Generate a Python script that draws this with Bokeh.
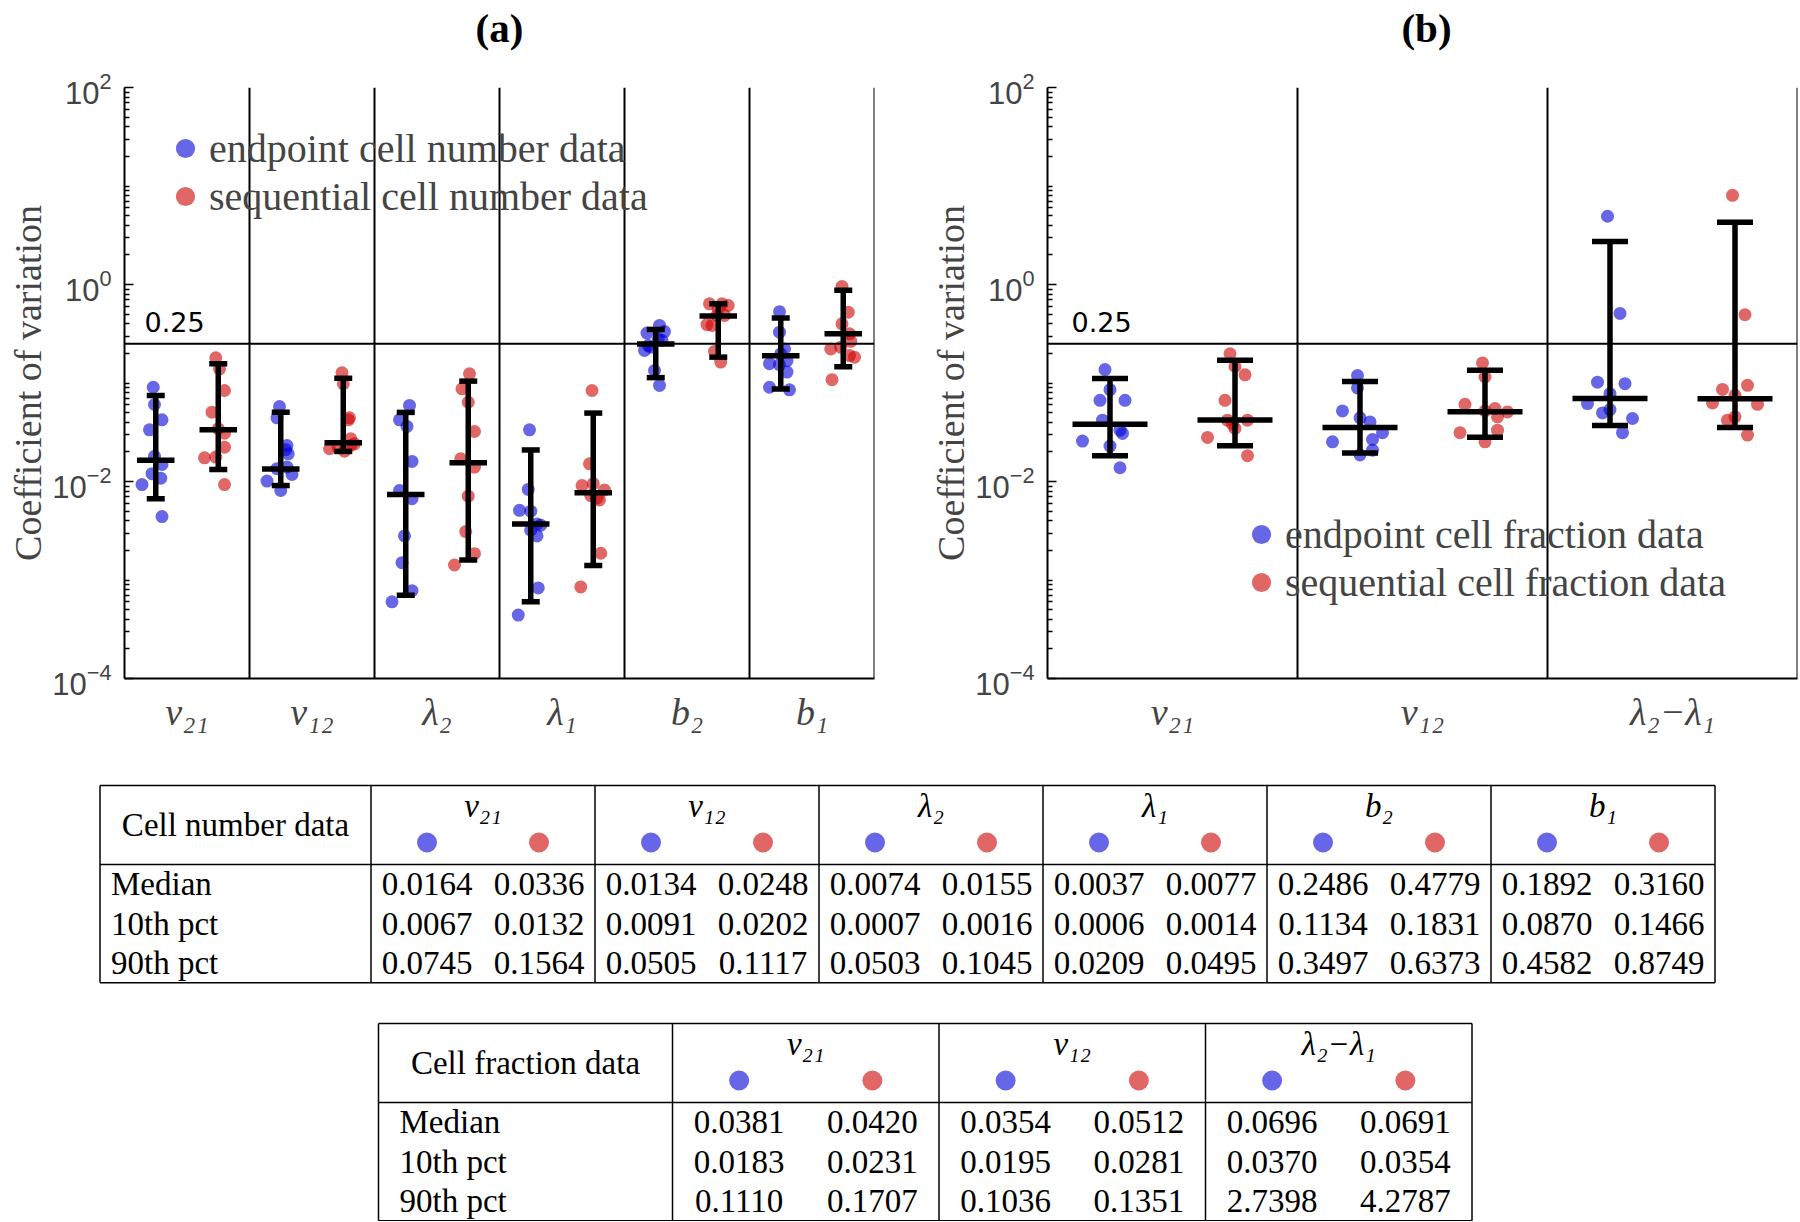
import numpy as np
from bokeh.plotting import figure
from bokeh.models import Range1d, FixedTicker, Span, Label, Legend, LegendItem
from bokeh.layouts import column, row
from bokeh.embed import file_html
from bokeh.resources import INLINE
from bokeh.core.properties import value

# ---------------- data ----------------
params_a = ["ν₂₁", "ν₁₂", "λ₂", "λ₁", "b₂", "b₁"]
params_b = ["ν₂₁", "ν₁₂", "λ₂−λ₁"]
panel_titles = ["(a)", "(b)"]
row_names = ["Median", "10th pct", "90th pct"]
THRESH = 0.25

a_end_median = [0.0164, 0.0134, 0.0074, 0.0037, 0.2486, 0.1892]
a_seq_median = [0.0336, 0.0248, 0.0155, 0.0077, 0.4779, 0.3160]
a_end_p10 = [0.0067, 0.0091, 0.0007, 0.0006, 0.1134, 0.0870]
a_seq_p10 = [0.0132, 0.0202, 0.0016, 0.0014, 0.1831, 0.1466]
a_end_p90 = [0.0745, 0.0505, 0.0503, 0.0209, 0.3497, 0.4582]
a_seq_p90 = [0.1564, 0.1117, 0.1045, 0.0495, 0.6373, 0.8749]

b_end_median = [0.0381, 0.0354, 0.0696]
b_seq_median = [0.0420, 0.0512, 0.0691]
b_end_p10 = [0.0183, 0.0195, 0.0370]
b_seq_p10 = [0.0231, 0.0281, 0.0354]
b_end_p90 = [0.1110, 0.1036, 2.7398]
b_seq_p90 = [0.1707, 0.1351, 4.2787]

a_end_pts = [
    [0.0906, 0.0605, 0.0423, 0.0335, 0.0180, 0.0149, 0.0120, 0.0108, 0.0093, 0.0044],
    [0.0577, 0.0443, 0.0232, 0.0191, 0.0210, 0.0135, 0.0118, 0.0101, 0.0081, 0.0140],
    [0.0592, 0.0423, 0.0362, 0.0160, 0.0081, 0.0067, 0.0028, 0.0015, 0.00078, 0.00060],
    [0.0335, 0.0083, 0.0051, 0.0050, 0.0037, 0.0032, 0.0028, 0.00083, 0.00044, 0.0036],
    [0.384, 0.333, 0.321, 0.281, 0.270, 0.240, 0.214, 0.231, 0.134, 0.0944],
    [0.530, 0.328, 0.222, 0.198, 0.169, 0.157, 0.154, 0.129, 0.0906, 0.0853],
]
a_end_jit = [
    [-0.02, -0.01, 0.05, -0.05, -0.01, 0.05, -0.03, 0.04, -0.11, 0.05],
    [-0.01, -0.03, 0.05, 0.06, 0.04, -0.03, 0.09, -0.11, 0.00, 0.05],
    [0.03, -0.05, 0.01, 0.05, -0.05, 0.05, -0.01, -0.03, 0.05, -0.11],
    [-0.01, -0.02, -0.09, 0.00, 0.05, 0.00, 0.05, 0.06, -0.10, 0.08],
    [0.03, 0.07, -0.07, 0.02, 0.05, -0.06, -0.09, -0.04, -0.01, 0.03],
    [-0.01, -0.01, 0.03, 0.00, 0.05, -0.09, -0.01, 0.05, -0.09, 0.07],
]
a_seq_pts = [
    [0.180, 0.139, 0.0839, 0.0506, 0.0343, 0.0309, 0.0223, 0.0174, 0.0177, 0.0093],
    [0.127, 0.0982, 0.0443, 0.0423, 0.0271, 0.0241, 0.0215, 0.0203, 0.0223, 0.0232],
    [0.124, 0.0873, 0.0638, 0.0322, 0.0170, 0.0140, 0.0071, 0.0031, 0.00185, 0.00142],
    [0.0839, 0.0151, 0.0091, 0.0095, 0.0082, 0.0065, 0.0072, 0.00187, 0.00085, 0.0068],
    [0.637, 0.637, 0.612, 0.485, 0.485, 0.392, 0.384, 0.163, 0.209, 0.566],
    [0.955, 0.524, 0.399, 0.316, 0.265, 0.231, 0.222, 0.190, 0.183, 0.108],
]
a_seq_jit = [
    [-0.02, 0.01, 0.05, -0.05, 0.00, 0.05, 0.05, -0.11, -0.02, 0.05],
    [-0.01, 0.00, 0.05, 0.04, 0.06, 0.09, -0.11, 0.01, -0.04, 0.06],
    [0.01, -0.05, 0.00, 0.05, -0.06, 0.05, 0.00, -0.02, 0.05, -0.11],
    [-0.01, -0.03, -0.09, 0.00, 0.09, 0.05, -0.02, 0.06, -0.10, 0.03],
    [-0.07, 0.03, 0.08, 0.05, -0.01, -0.09, -0.05, 0.02, -0.03, 0.00],
    [-0.01, 0.04, -0.01, 0.05, 0.06, -0.02, -0.10, 0.05, 0.09, -0.09],
]
b_end_pts = [
    [0.137, 0.0855, 0.0667, 0.0667, 0.0419, 0.0332, 0.0308, 0.0257, 0.0229, 0.0138],
    [0.119, 0.0891, 0.0521, 0.0443, 0.0403, 0.0313, 0.0267, 0.0253, 0.0208, 0.0186],
    [4.93, 0.509, 0.102, 0.0984, 0.0780, 0.0618, 0.0537, 0.0497, 0.0436, 0.0313],
]
b_end_jit = [
    [-0.02, 0.00, -0.04, 0.06, -0.03, 0.04, 0.05, -0.11, 0.00, 0.04],
    [-0.01, -0.01, -0.07, 0.00, 0.04, 0.09, 0.05, -0.11, 0.05, 0.00],
    [-0.01, 0.04, -0.05, 0.06, 0.00, -0.09, 0.00, -0.03, 0.09, 0.05],
]
b_seq_pts = [
    [0.198, 0.147, 0.121, 0.0667, 0.0419, 0.0419, 0.0345, 0.0280, 0.0183, 0.0382],
    [0.160, 0.115, 0.0608, 0.0550, 0.0509, 0.0454, 0.0521, 0.0313, 0.0332, 0.0253],
    [8.04, 0.493, 0.0946, 0.0861, 0.0749, 0.0628, 0.0608, 0.0454, 0.0419, 0.0296],
]
b_seq_jit = [
    [-0.02, 0.00, 0.04, -0.04, -0.03, 0.05, 0.00, -0.11, 0.05, -0.01],
    [-0.01, 0.00, -0.08, 0.04, 0.09, 0.05, 0.00, -0.10, 0.05, 0.00],
    [-0.01, 0.04, 0.05, -0.05, 0.00, -0.09, 0.09, 0.00, -0.03, 0.05],
]

# ---------------- style / layout ----------------
BLUE = "#0000d5"
RED = "#cd0000"
ALPHA = 0.6
SERIF = "Liberation Serif"
SANS = "Liberation Sans"
SIDE = 0.25
CAP = 0.072
MED = 0.15
EB_W = 5.5
FRAME_W, FRAME_H = 750, 591
TITLE_H = 60
A_LEFT, A_RIGHT = 124, 50
B_LEFT, B_RIGHT = 123, 1
TOTAL_W = A_LEFT + FRAME_W + A_RIGHT + B_LEFT + FRAME_W + B_RIGHT


def panel(labels, end_pts, end_jit, seq_pts, seq_jit,
          e_med, e_p10, e_p90, s_med, s_p10, s_p90,
          border_left, border_right, border_top, border_bottom,
          leg_labels, leg_loc, thr_xoff):
    n = len(labels)
    p = figure(frame_width=FRAME_W, frame_height=FRAME_H,
               min_border_left=border_left, min_border_right=border_right,
               min_border_top=border_top, min_border_bottom=border_bottom,
               x_range=Range1d(0.5, n + 0.5), y_range=Range1d(1e-4, 1e2),
               y_axis_type="log", output_backend="svg", toolbar_location=None)
    p.grid.visible = False
    p.outline_line_color = None
    p.background_fill_color = "white"
    p.border_fill_color = "white"

    # y axis
    minor = []
    for e in range(-4, 2):
        for k in range(1, 10):
            if k == 1 and e % 2 == 0:
                continue
            minor.append(k * 10.0 ** e)
    p.yaxis.ticker = FixedTicker(ticks=[1e-4, 1e-2, 1e0, 1e2], minor_ticks=minor)
    p.yaxis.major_tick_in = 9
    p.yaxis.major_tick_out = 0
    p.yaxis.minor_tick_in = 5
    p.yaxis.minor_tick_out = 0
    p.yaxis.major_tick_line_width = 1.5
    p.yaxis.minor_tick_line_width = 1.5
    p.yaxis.axis_line_width = 2
    p.yaxis.major_label_text_font = SANS
    p.yaxis.major_label_text_font_size = "31px"
    p.yaxis.major_label_standoff = 13
    p.yaxis.axis_label = "Coefficient of variation"
    p.yaxis.axis_label_text_font = SERIF
    p.yaxis.axis_label_text_font_style = "normal"
    p.yaxis.axis_label_text_font_size = "38px"
    p.yaxis.axis_label_standoff = 0

    # x axis
    p.xaxis.ticker = FixedTicker(ticks=list(range(1, n + 1)))
    p.xaxis.major_label_overrides = {i + 1: lab for i, lab in enumerate(labels)}
    p.xaxis.major_tick_in = 0
    p.xaxis.major_tick_out = 0
    p.xaxis.axis_line_width = 2
    p.xaxis.major_label_text_font = SERIF
    p.xaxis.major_label_text_font_style = "italic"
    p.xaxis.major_label_text_font_size = "38px"
    p.xaxis.major_label_standoff = 12

    # separators and threshold
    for i in range(1, n + 1):
        p.add_layout(Span(location=i + 0.5, dimension="height",
                          line_color="black", line_width=2))
    p.add_layout(Span(location=THRESH, dimension="width",
                      line_color="black", line_width=2))
    p.add_layout(Label(x=0.5, y=THRESH, x_offset=thr_xoff, y_offset=12,
                       text=f"{THRESH}", text_font="DejaVu Sans",
                       text_font_size="27px", text_baseline="bottom",
                       text_color="black"))

    # points
    xe, ye, xs, ys = [], [], [], []
    for i in range(n):
        for v, j in zip(end_pts[i], end_jit[i]):
            xe.append(i + 1 - SIDE + j)
            ye.append(v)
        for v, j in zip(seq_pts[i], seq_jit[i]):
            xs.append(i + 1 + SIDE + j)
            ys.append(v)
    r_e = p.scatter(xe, ye, size=13, color=BLUE, alpha=ALPHA, line_color=None)
    r_s = p.scatter(xs, ys, size=13, color=RED, alpha=ALPHA, line_color=None)

    # error bars (10th pct .. 90th pct, median bar)
    for off, med, lo, hi in ((-SIDE, e_med, e_p10, e_p90), (SIDE, s_med, s_p10, s_p90)):
        x = np.arange(1, n + 1) + off
        p.segment(x0=x, y0=lo, x1=x, y1=hi, line_color="black", line_width=EB_W)
        p.segment(x0=x - CAP, y0=lo, x1=x + CAP, y1=lo, line_color="black", line_width=EB_W)
        p.segment(x0=x - CAP, y0=hi, x1=x + CAP, y1=hi, line_color="black", line_width=EB_W)
        p.segment(x0=x - MED, y0=med, x1=x + MED, y1=med, line_color="black", line_width=EB_W)

    legend = Legend(items=[LegendItem(label=leg_labels[0], renderers=[r_e]),
                           LegendItem(label=leg_labels[1], renderers=[r_s])],
                    location=leg_loc, glyph_width=48, glyph_height=48,
                    padding=0, margin=0, spacing=0, label_standoff=0,
                    background_fill_alpha=0, border_line_alpha=0,
                    label_text_font=SERIF, label_text_font_size="40px")
    p.add_layout(legend)
    return p


fa = panel(params_a, a_end_pts, a_end_jit, a_seq_pts, a_seq_jit,
           a_end_median, a_end_p10, a_end_p90, a_seq_median, a_seq_p10, a_seq_p90,
           A_LEFT, A_RIGHT, 87 - TITLE_H, 82,
           ["endpoint cell number data", "sequential cell number data"],
           (37, 458), 20)
fb = panel(params_b, b_end_pts, b_end_jit, b_seq_pts, b_seq_jit,
           b_end_median, b_end_p10, b_end_p90, b_seq_median, b_seq_p10, b_seq_p90,
           B_LEFT, B_RIGHT, 83 - TITLE_H, 86,
           ["endpoint cell fraction data", "sequential cell fraction data"],
           (190, 72), 24)

# ---------------- panel titles strip ----------------
ts = figure(width=TOTAL_W, height=TITLE_H, x_range=Range1d(0, TOTAL_W),
            y_range=Range1d(TITLE_H, 0), output_backend="svg", toolbar_location=None,
            min_border=0, x_axis_location=None, y_axis_location=None)
ts.grid.visible = False
ts.outline_line_color = None
title_x = [A_LEFT + FRAME_W / 2,
           A_LEFT + FRAME_W + A_RIGHT + B_LEFT + FRAME_W / 2 + 4]
ts.text(x=title_x, y=[27, 27], text=panel_titles,
        text_font=value(SERIF), text_font_style="bold", text_font_size=value("41px"),
        text_align="center", text_baseline="middle", text_color="black")

# ---------------- tables ----------------
TH = 461
t = figure(width=TOTAL_W, height=TH, x_range=Range1d(0, TOTAL_W), y_range=Range1d(TH, 0),
           output_backend="svg", toolbar_location=None, min_border=0,
           x_axis_location=None, y_axis_location=None)
t.grid.visible = False
t.outline_line_color = None

HEADER_H = 79
ROW_H = 39.4
FS = "33px"


def draw_table(left, top, first_w, group_w, corner, groups, end_rows, seq_rows, pad):
    n = len(groups)
    right = left + first_w + n * group_w
    bottom = top + HEADER_H + 3 * ROW_H
    vx = [left, left + first_w] + [left + first_w + (k + 1) * group_w for k in range(n)]
    t.segment(x0=vx, y0=[top] * len(vx), x1=vx, y1=[bottom] * len(vx),
              line_color="black", line_width=1.5)
    hy = [top, top + HEADER_H, bottom]
    t.segment(x0=[left] * 3, y0=hy, x1=[right] * 3, y1=hy,
              line_color="black", line_width=1.5)
    t.text(x=[left + first_w / 2], y=[top + HEADER_H / 2], text=[corner],
           text_font=value(SERIF), text_font_size=value(FS),
           text_align="center", text_baseline="middle", text_color="black")
    ry = [top + HEADER_H + ROW_H * (r + 0.5) for r in range(3)]
    t.text(x=[left + pad] * 3, y=ry, text=row_names,
           text_font=value(SERIF), text_font_size=value(FS),
           text_align="left", text_baseline="middle", text_color="black")
    gx = [left + first_w + (k + 0.5) * group_w for k in range(n)]
    t.text(x=gx, y=[top + 20] * n, text=groups,
           text_font=value(SERIF), text_font_size=value(FS), text_font_style="italic",
           text_align="center", text_baseline="middle", text_color="black")
    ex = [left + first_w + (k + 0.25) * group_w for k in range(n)]
    sx = [left + first_w + (k + 0.75) * group_w for k in range(n)]
    t.scatter(ex, [top + 57] * n, size=20, color=BLUE, alpha=ALPHA, line_color=None)
    t.scatter(sx, [top + 57] * n, size=20, color=RED, alpha=ALPHA, line_color=None)
    for r in range(3):
        t.text(x=ex, y=[ry[r]] * n, text=[f"{v:.4f}" for v in end_rows[r]],
               text_font=value(SERIF), text_font_size=value(FS),
               text_align="center", text_baseline="middle", text_color="black")
        t.text(x=sx, y=[ry[r]] * n, text=[f"{v:.4f}" for v in seq_rows[r]],
               text_font=value(SERIF), text_font_size=value(FS),
               text_align="center", text_baseline="middle", text_color="black")


draw_table(99.5, 25, 271, 224, "Cell number data", params_a,
           [a_end_median, a_end_p10, a_end_p90], [a_seq_median, a_seq_p10, a_seq_p90], 11)
draw_table(378, 263, 294, 266.5, "Cell fraction data", params_b,
           [b_end_median, b_end_p10, b_end_p90], [b_seq_median, b_seq_p10, b_seq_p90], 21)

layout = column(ts, row(fa, fb), t)
open("out.html", "w").write(file_html(layout, INLINE))
